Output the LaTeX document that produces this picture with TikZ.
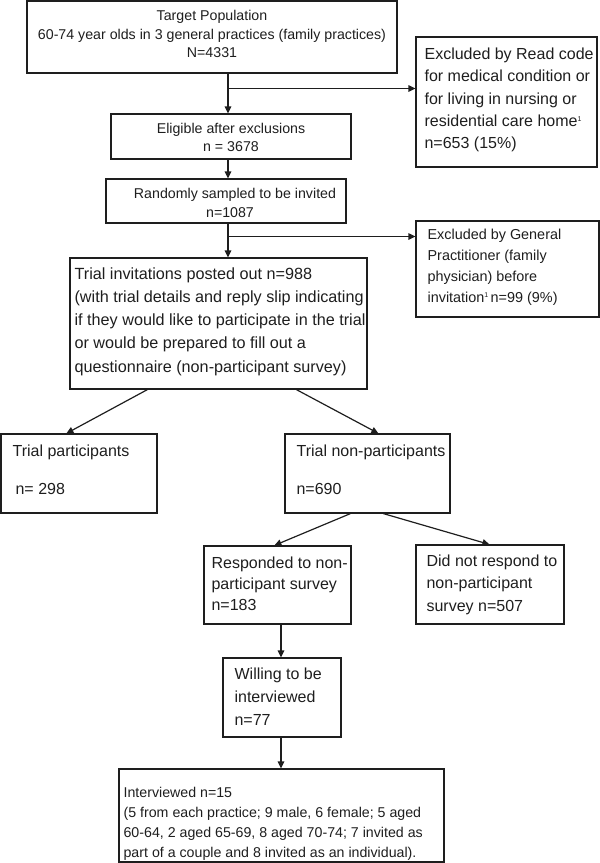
\documentclass[tikz,border=0pt]{standalone}
\usepackage{fontspec}
\setmainfont{Liberation Sans}
\usetikzlibrary{arrows.meta,calc}
\newcommand\mysup[1]{\raisebox{5pt}{\fontsize{7}{7}\selectfont #1}}
\definecolor{ink}{HTML}{1E1E1E}
\tikzset{
  box/.style={draw=ink, line width=1.2pt, inner sep=0pt},
  txt/.style={inner sep=0pt, align=left, anchor=west, text=ink},
  ctxt/.style={inner sep=0pt, align=center, text=ink},
  arr/.style={draw=ink, line width=1.2pt, -{Triangle[length=7pt,width=6.5pt]}},
  fa/.style={font=\fontsize{14.2}{18.5}\selectfont},
}
\begin{document}
\begin{tikzpicture}[x=1pt,y=-1pt]
\useasboundingbox (0,0) rectangle (600,863);
% boxes
\node[box,minimum width=370pt,minimum height=72pt] (target) at (212,37) {};
\node[box,minimum width=181pt,minimum height=130pt] (readx) at (506.5,102) {};
\node[box,minimum width=240pt,minimum height=45pt] (elig) at (231,136.5) {};
\node[box,minimum width=240pt,minimum height=44pt] (rand) at (226,201) {};
\node[box,minimum width=183pt,minimum height=96pt] (gpx) at (507.5,269) {};
\node[box,minimum width=297pt,minimum height=131pt] (inv) at (218.5,323.5) {};
\node[box,minimum width=156pt,minimum height=79pt] (part) at (79,473.5) {};
\node[box,minimum width=165pt,minimum height=79pt] (nonp) at (367.5,473.5) {};
\node[box,minimum width=147pt,minimum height=78pt] (resp) at (277.5,585) {};
\node[box,minimum width=148pt,minimum height=79pt] (didnot) at (490,584.5) {};
\node[box,minimum width=118pt,minimum height=79pt] (will) at (282,697.5) {};
\node[box,minimum width=325pt,minimum height=93pt] (intv) at (281.5,815.5) {};
% texts
\node[ctxt,fa] (target-t) at ([yshift=3pt]target.center)
  {Target Population\\60-74 year olds in 3 general practices (family practices)\\N=4331};
\node[txt,font=\fontsize{16}{22.3}\selectfont] (readx-t) at ([xshift=9pt,yshift=2pt]readx.west)
  {Excluded by Read code\\for medical condition or\\for living in nursing or\\residential care home\mysup{1}\\n=653 (15\%)};
\node[ctxt,fa] (elig-t) at ([yshift=-1pt]elig.center)
  {Eligible after exclusions\\n = 3678};
\node[ctxt,fa] (rand-t) at ([xshift=9pt,yshift=-2pt]rand.center)
  {Randomly sampled to be invited\\\hspace*{-10pt}n=1087};
\node[txt,font=\fontsize{14.4}{21}\selectfont] (gpx-t) at ([xshift=12pt,yshift=2pt]gpx.west)
  {Excluded by General\\Practitioner (family\\physician) before\\invitation\mysup{1}\,n=99 (9\%)};
\node[txt,font=\fontsize{16.2}{23.3}\selectfont] (inv-t) at ([xshift=5pt,yshift=2pt]inv.west)
  {Trial invitations posted out n=988\\(with trial details and reply slip indicating\\if they would like to participate in the trial\\or would be prepared to fill out a\\questionnaire (non-participant survey)};
\node[txt,font=\fontsize{16}{19}\selectfont] (part-t) at ([xshift=12pt,yshift=4pt]part.west)
  {Trial participants\\[19pt]\hspace*{3pt}n= 298};
\node[txt,font=\fontsize{16}{19}\selectfont] (nonp-t) at ([xshift=12pt,yshift=4pt]nonp.west)
  {Trial non-participants\\[19pt]n=690};
\node[txt,font=\fontsize{16}{21}\selectfont] (resp-t) at ([xshift=8pt,yshift=1pt]resp.west)
  {Responded to non-\\participant survey\\n=183};
\node[txt,font=\fontsize{16}{22.5}\selectfont] (didnot-t) at ([xshift=11pt,yshift=0pt]didnot.west)
  {Did not respond to\\non-participant\\survey n=507};
\node[txt,font=\fontsize{16}{23}\selectfont] (will-t) at ([xshift=12pt,yshift=1pt]will.west)
  {Willing to be\\interviewed\\n=77};
\node[txt,font=\fontsize{14.2}{20}\selectfont] (intv-t) at ([xshift=5pt,yshift=-8pt]intv.west)
  {Interviewed n=15\\(5 from each practice; 9 male, 6 female; 5 aged\\60-64, 2 aged 65-69, 8 aged 70-74; 7 invited as\\part of a couple and 8 invited as an individual).};
% helper coordinates
\coordinate (cA) at (228,0);
\coordinate (cB) at (281,0);
\coordinate (j1) at (228,88.5);
\coordinate (j2) at (228,236.5);
% connectors
\draw[arr] (target.south -| cA) -- (elig.north -| cA);
\draw[arr] (j1) -- (readx.west |- j1);
\draw[arr] (elig.south -| cA) -- (rand.north -| cA);
\draw[arr] (rand.south -| cA) -- (inv.north -| cA);
\draw[arr] (j2) -- (gpx.west |- j2);
\draw[arr] ([xshift=78pt]inv.south west) -- ([xshift=66pt]part.north west);
\draw[arr] ([xshift=227pt]inv.south west) -- ([xshift=94pt]nonp.north west);
\draw[arr] ([xshift=66pt]nonp.south west) -- ([xshift=71pt]resp.north west);
\draw[arr] ([xshift=99pt]nonp.south west) -- ([xshift=74pt]didnot.north west);
\draw[arr] (resp.south -| cB) -- (will.north -| cB);
\draw[arr] (will.south -| cB) -- (intv.north -| cB);
\end{tikzpicture}
\end{document}
